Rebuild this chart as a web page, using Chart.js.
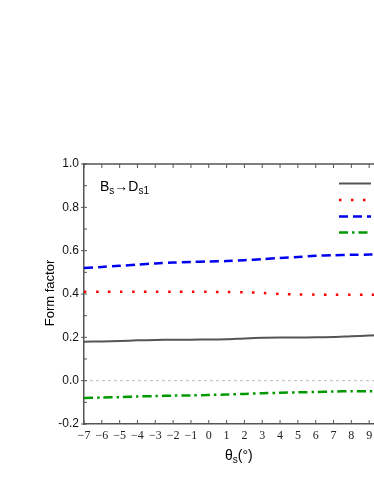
<!DOCTYPE html>
<html>
<head>
<meta charset="utf-8">
<script src="https://cdn.jsdelivr.net/npm/chart.js@4"></script>
<style>
  html, body { margin: 0; padding: 0; overflow: hidden; background: #fff; }
  #wrap { width: 400px; height: 484px; }
</style>
</head>
<body>
<div id="wrap"><canvas id="ffChart" width="400" height="484"></canvas></div>
<script>
// Setup
const thetaVals = [-7, -6, -5, -4, -3, -2, -1, 0, 1, 2, 3, 4, 5, 6, 7, 8, 9, 10];
const seriesNames = ["A", "V0", "V1", "V2"];
const ffA  = [0.180, 0.181, 0.183, 0.186, 0.188, 0.189, 0.189, 0.190, 0.191, 0.195, 0.198, 0.199, 0.199, 0.200, 0.201, 0.205, 0.208, 0.210];
const ffV0 = [0.410, 0.410, 0.410, 0.410, 0.410, 0.410, 0.410, 0.410, 0.409, 0.408, 0.405, 0.400, 0.398, 0.397, 0.397, 0.397, 0.397, 0.397];
const ffV1 = [0.520, 0.525, 0.530, 0.536, 0.541, 0.545, 0.548, 0.550, 0.552, 0.556, 0.561, 0.566, 0.571, 0.576, 0.579, 0.581, 0.582, 0.584];
const ffV2 = [-0.080, -0.078, -0.076, -0.073, -0.071, -0.069, -0.068, -0.066, -0.064, -0.061, -0.058, -0.056, -0.054, -0.052, -0.050, -0.049, -0.049, -0.048];
const yTicks = [-0.2, 0.0, 0.2, 0.4, 0.6, 0.8, 1.0];

const pts = (arr) => thetaVals.map((x, i) => ({ x: x, y: arr[i] }));

const ffData = {
  datasets: [
    { label: seriesNames[0], data: pts(ffA), borderColor: "#555555", borderWidth: 2, borderDash: [] },
    { label: seriesNames[1], data: pts(ffV0), borderColor: "#ff0000", borderWidth: 2.5, borderDash: [2.5, 9.5] },
    { label: seriesNames[2], data: pts(ffV1), borderColor: "#0000ee", borderWidth: 2.5, borderDash: [9, 5] },
    { label: seriesNames[3], data: pts(ffV2), borderColor: "#009900", borderWidth: 2.5, borderDash: [9, 4, 2.5, 4] },
  ],
};

// extra drawing: frame ticks, zero line, legend, annotation, axis titles
const extras = {
  id: "extras",
  beforeDatasetsDraw(chart) {
    const { ctx, chartArea: ca, scales } = chart;
    ctx.save();
    const y0 = scales.y.getPixelForValue(0);
    ctx.strokeStyle = "#bbbbbb";
    ctx.lineWidth = 1;
    ctx.setLineDash([3, 3]);
    ctx.beginPath();
    ctx.moveTo(ca.left, y0);
    ctx.lineTo(ca.right, y0);
    ctx.stroke();
    ctx.restore();
  },
  afterDraw(chart) {
    const { ctx, chartArea: ca, scales } = chart;
    ctx.save();
    ctx.strokeStyle = "#555555";
    ctx.lineWidth = 1.5;
    ctx.setLineDash([]);
    // top frame
    ctx.beginPath();
    ctx.moveTo(ca.left, ca.top);
    ctx.lineTo(ca.right, ca.top);
    ctx.stroke();
    // x ticks top & bottom
    ctx.lineWidth = 1;
    for (let v = -7; v <= 10; v++) {
      const px = scales.x.getPixelForValue(v);
      ctx.beginPath();
      ctx.moveTo(px, ca.bottom);
      ctx.lineTo(px, ca.bottom - 4);
      ctx.moveTo(px, ca.top);
      ctx.lineTo(px, ca.top + 4);
      ctx.stroke();
    }
    // y ticks (major + minor)
    for (let k = -2; k <= 10; k++) {
      const py = scales.y.getPixelForValue(k / 10);
      ctx.beginPath();
      ctx.moveTo(ca.left - (k % 2 === 0 ? 3 : 1), py);
      ctx.lineTo(ca.left + 3, py);
      ctx.stroke();
    }
    // legend lines
    const legY = [183.5, 200, 216.5, 232.5];
    chart.data.datasets.forEach((ds, i) => {
      ctx.strokeStyle = ds.borderColor;
      ctx.lineWidth = ds.borderWidth;
      ctx.setLineDash(ds.borderDash);
      ctx.beginPath();
      ctx.moveTo(339, legY[i]);
      ctx.lineTo(371, legY[i]);
      ctx.stroke();
      ctx.setLineDash([]);
      ctx.fillStyle = "#000";
      ctx.font = "13px 'Liberation Sans', Arial";
      ctx.textBaseline = "middle";
      ctx.fillText(ds.label, 378, legY[i]);
    });
    // annotation Bs -> Ds1
    ctx.fillStyle = "#000";
    ctx.textBaseline = "alphabetic";
    let x = 100;
    const base = 191;
    const big = "14px 'Liberation Sans', Arial";
    const small = "10px 'Liberation Sans', Arial";
    const put = (t, f, dy) => { ctx.font = f; ctx.fillText(t, x, base + dy); x += ctx.measureText(t).width; };
    put("B", big, 0);
    put("s", small, 3);
    put("\u2192", big, 0);
    put("D", big, 0);
    put("s1", small, 3);
    // axis titles
    ctx.font = "13px 'Liberation Sans', Arial";
    ctx.textAlign = "center";
    ctx.textBaseline = "middle";
    ctx.save();
    ctx.translate(50, 293);
    ctx.rotate(-Math.PI / 2);
    ctx.fillText("Form factor", 0, 0);
    ctx.restore();
    ctx.textAlign = "left";
    x = 225;
    ctx.font = "14px 'Liberation Sans', Arial";
    ctx.fillText("\u03b8", x, 456);
    x += ctx.measureText("\u03b8").width;
    ctx.font = "10px 'Liberation Sans', Arial";
    ctx.fillText("s", x, 460);
    x += ctx.measureText("s").width;
    ctx.font = "14px 'Liberation Sans', Arial";
    ctx.fillText("(\u00b0)", x, 456);
    ctx.restore();
  },
};

// Config
const ffConfig = {
  type: "line",
  data: ffData,
  options: {
    responsive: false,
    animation: false,
    elements: { point: { radius: 0 }, line: { tension: 0.3, fill: false } },
    layout: { padding: { left: 0, top: 164, right: 13, bottom: 0 } },
    plugins: { legend: { display: false }, tooltip: { enabled: false } },
    scales: {
      x: {
        type: "linear",
        min: -7,
        max: 10,
        afterFit: (s) => { s.height = 60; },
        grid: { display: false, drawTicks: false },
        border: { display: true, color: "#555555", width: 1.5 },
        ticks: {
          stepSize: 1,
          autoSkip: false,
          maxRotation: 0,
          minRotation: 0,
          padding: 5,
          color: "#222",
          font: { family: "'Liberation Serif', 'Times New Roman'", size: 12 },
          callback: (v) => (v > 9 ? "" : (v < 0 ? "\u2212" + Math.abs(v) : String(v))),
        },
      },
      y: {
        type: "linear",
        min: yTicks[0],
        max: yTicks[yTicks.length - 1],
        afterFit: (s) => { s.width = 84; },
        afterBuildTicks: (s) => { s.ticks = yTicks.map((v) => ({ value: v })); },
        grid: { display: false, drawTicks: false },
        border: { display: true, color: "#555555", width: 1.5 },
        ticks: {
          padding: 5,
          color: "#111",
          font: { family: "'Liberation Sans', Arial", size: 12 },
          callback: (v) => Number(v).toFixed(1),
        },
      },
    },
  },
  plugins: [extras],
};

const ffChart = new Chart(document.getElementById("ffChart"), ffConfig);
</script>
</body>
</html>
